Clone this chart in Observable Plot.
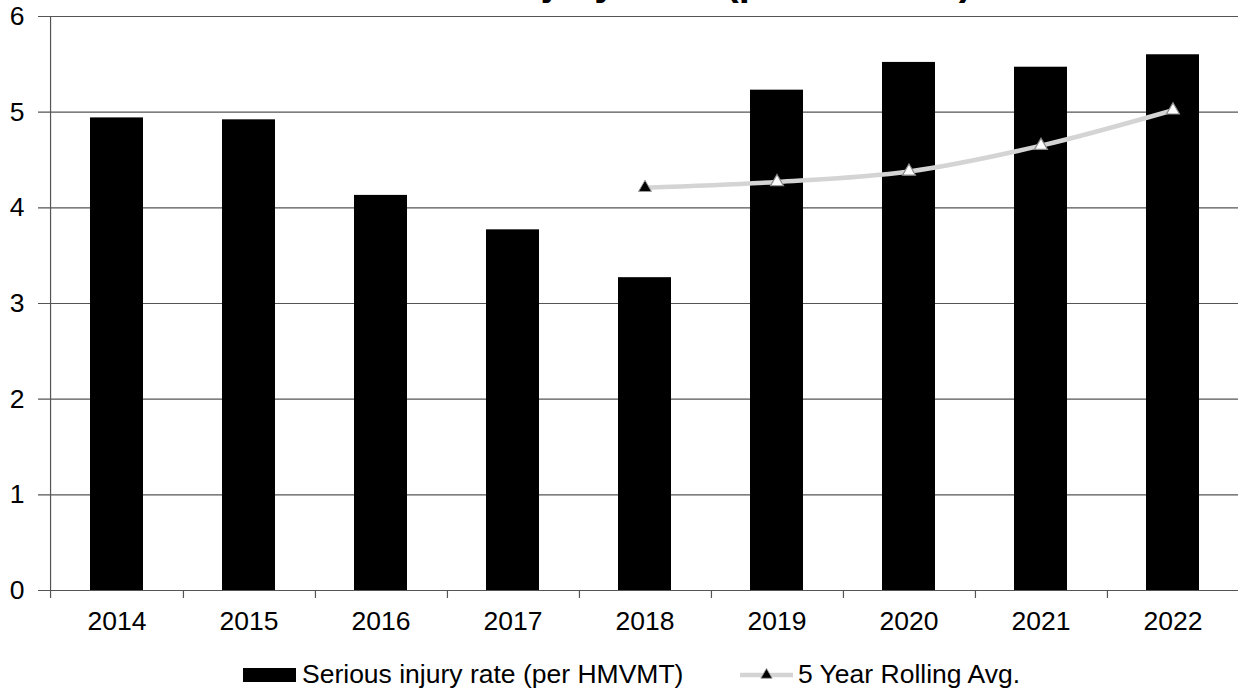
<!DOCTYPE html>
<html>
<head>
<meta charset="utf-8">
<script src="https://cdn.jsdelivr.net/npm/d3@7"></script>
<script src="https://cdn.jsdelivr.net/npm/@observablehq/plot@0.6"></script>
<style>
  html, body { margin: 0; padding: 0; background: #fff; overflow: hidden; }
  #wrap { position: relative; width: 1238px; height: 692px; font-family: "Liberation Sans", Arial, sans-serif; }
  .leg { position: absolute; top: 661px; height: 26px; line-height: 26px; font-size: 26.5px; color: #000; white-space: nowrap; }
  .leg svg { position: absolute; left: 0; top: 0; }
  .leg span { position: absolute; top: 0; }
</style>
</head>
<body>
<div id="wrap"></div>
<script>
const titleText = "Serious Injury Rate (per HMVMT)";
const years = ["2014", "2015", "2016", "2017", "2018", "2019", "2020", "2021", "2022"];
const injuryRate = [4.94, 4.92, 4.13, 3.77, 3.27, 5.23, 5.52, 5.47, 5.60];
const avgYears = ["2018", "2019", "2020", "2021", "2022"];
const rollingAvg = [4.21, 4.27, 4.38, 4.65, 5.02];
const yTicks = [0, 1, 2, 3, 4, 5, 6];
const seriesNames = ["Serious injury rate (per HMVMT)", "5 Year Rolling Avg."];

const bars = years.map((y, i) => ({year: y, value: injuryRate[i]}));
const avg = avgYears.map((y, i) => ({year: y, value: rollingAvg[i]}));

const step = (1242 - 46) / years.length;
const half = step / 2;
const gridColor = "#555555";

const plot = Plot.plot({
  width: 1238,
  height: 645,
  marginLeft: 46,
  marginTop: 16,
  marginBottom: 55,
  marginRight: 0,
  style: {fontFamily: "'Liberation Sans', Arial, sans-serif", fontSize: "26.5px", color: "#000", overflow: "visible", background: "transparent"},
  x: {domain: years, range: [46, 1242], paddingInner: 0.6, paddingOuter: 0.3, label: null},
  y: {domain: [0, 6], label: null},
  marks: [
    Plot.ruleY(yTicks, {stroke: gridColor, strokeWidth: 1.2, insetLeft: -8}),
    Plot.barY(bars, {x: "year", y: "value", fill: "#000"}),
    Plot.ruleX([years[0]], {y1: 6, y2: 0, dx: -half, insetBottom: -8, stroke: gridColor, strokeWidth: 1.2}),
    Plot.ruleX(years, {y1: 0, y2: 0, dx: half, insetBottom: -8, stroke: gridColor, strokeWidth: 1.2}),
    Plot.line(avg, {x: "year", y: "value", stroke: "#d4d4d4", strokeWidth: 4.5, curve: "catmull-rom"}),
    Plot.dot(avg, {filter: (d, i) => i === 0, x: "year", y: "value", symbol: "triangle", r: 4.8, fill: "#000", stroke: "#9a9a9a", strokeWidth: 1}),
    Plot.dot(avg, {filter: (d, i) => i > 0, x: "year", y: "value", symbol: "triangle", r: 4.8, fill: "#fff", stroke: "#8a8a8a", strokeWidth: 1.2}),
    Plot.axisY({ticks: yTicks, tickFormat: d3.format("d"), tickSize: 0, tickPadding: 22, fontSize: 26.5, label: null}),
    Plot.axisX({tickSize: 0, tickPadding: 21, fontSize: 26.5, label: null})
  ]
});

d3.select(plot).append("text")
  .attr("x", 661).attr("y", -5)
  .attr("text-anchor", "middle")
  .attr("font-weight", "bold")
  .attr("font-size", 40)
  .attr("fill", "#000")
  .text(titleText);

const wrap = document.getElementById("wrap");
plot.style.position = "absolute";
plot.style.left = "0px";
plot.style.top = "0px";
wrap.appendChild(plot);

// Legend
const leg1 = document.createElement("div");
leg1.className = "leg";
leg1.style.left = "243px";
leg1.innerHTML = `<svg width="53" height="26"><rect x="0" y="7" width="53" height="14" fill="#000"/></svg><span style="left:59px">${seriesNames[0]}</span>`;
wrap.appendChild(leg1);

const leg2 = document.createElement("div");
leg2.className = "leg";
leg2.style.left = "740px";
leg2.innerHTML = `<svg width="53" height="26"><line x1="0" x2="53" y1="14" y2="14" stroke="#d4d4d4" stroke-width="4.5"/><path d="${d3.symbol(d3.symbolTriangle, 55)()}" transform="translate(26.5,14)" fill="#000" stroke="#9a9a9a" stroke-width="0.8"/></svg><span style="left:58px">${seriesNames[1]}</span>`;
wrap.appendChild(leg2);
</script>
</body>
</html>
